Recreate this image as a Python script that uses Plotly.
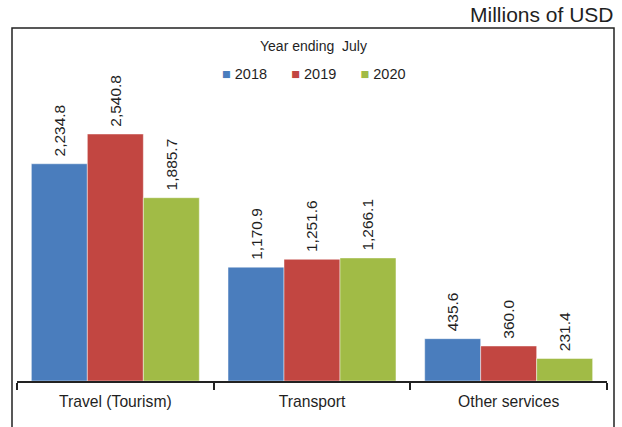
import plotly.graph_objects as go

categories = ["Travel (Tourism)", "Transport", "Other services"]
years = ["2018", "2019", "2020"]
values_2018 = [2234.8, 1170.9, 435.6]
values_2019 = [2540.8, 1251.6, 360.0]
values_2020 = [1885.7, 1266.1, 231.4]
series = [values_2018, values_2019, values_2020]
colors = ["#4a7dbd", "#c24641", "#a1bb46"]
legend_title = "Year ending  July"
unit_label = "Millions of USD"

FONT = "Liberation Sans, Arial, sans-serif"
TXT = "#1f1f1f"
NB = "\u00a0"

fig = go.Figure()
for name, vals, col in zip(years, series, colors):
    fig.add_trace(go.Bar(
        name=name, x=categories, y=vals,
        marker=dict(color=col, line=dict(color="rgba(255,255,255,0.45)", width=1)),
        text=[NB + f"{v:,.1f}" for v in vals],
        textposition="outside", textangle=-90,
        textfont=dict(family=FONT, size=15.5, color=TXT),
        cliponaxis=False,
        showlegend=False,
    ))

W, H = 622, 427
ml, mr, mt, mb = 17, 15, 28, 46
pw, ph = W - ml - mr, H - mt - mb

def px_x(x):
    return (x - ml) / pw

def px_y(y):
    return (H - mb - y) / ph

legend_text = (NB * 6).join(
    f"<span style='color:{c}'>■</span>{NB}{y}" for y, c in zip(years, colors)
)

fig.update_layout(
    width=W, height=H,
    margin=dict(l=ml, r=mr, t=mt, b=mb),
    paper_bgcolor="white", plot_bgcolor="white",
    barmode="group", bargap=0.146, bargroupgap=0,
    font=dict(family=FONT, size=15, color=TXT),
    showlegend=False,
    xaxis=dict(
        type="category", showline=True, linecolor="#222", linewidth=1.5,
        ticks="outside", tickson="boundaries", ticklen=7, tickwidth=1.5,
        tickcolor="#222", showgrid=False, zeroline=False,
        tickfont=dict(family=FONT, size=15.7, color=TXT),
        ticklabelstandoff=5,
    ),
    yaxis=dict(range=[0, ph / 0.0972], visible=False, showgrid=False),
    shapes=[dict(
        type="rect", xref="paper", yref="paper",
        x0=px_x(12), x1=px_x(614),
        y0=-(mb + 5) / ph, y1=1,
        line=dict(color="#222", width=1.5), fillcolor="rgba(0,0,0,0)", layer="below",
    )],
    annotations=[
        dict(text=unit_label, xref="paper", yref="paper",
             x=px_x(616), xanchor="right", y=1, yanchor="bottom",
             showarrow=False, font=dict(family=FONT, size=21, color=TXT)),
        dict(text=legend_title, xref="paper", yref="paper",
             x=px_x(313), xanchor="center", y=px_y(46), yanchor="middle",
             showarrow=False, font=dict(family=FONT, size=14, color=TXT)),
        dict(text=legend_text, xref="paper", yref="paper",
             x=px_x(314), xanchor="center", y=px_y(74), yanchor="middle",
             showarrow=False, font=dict(family=FONT, size=14.5, color=TXT)),
    ],
)

fig.write_html("out.html", config={"displayModeBar": False})
with open("out.html", "r", encoding="utf-8") as f:
    html = f.read()
html = html.replace("<head>", "<head><style>html,body{margin:0;padding:0;}</style>", 1)
with open("out.html", "w", encoding="utf-8") as f:
    f.write(html)
